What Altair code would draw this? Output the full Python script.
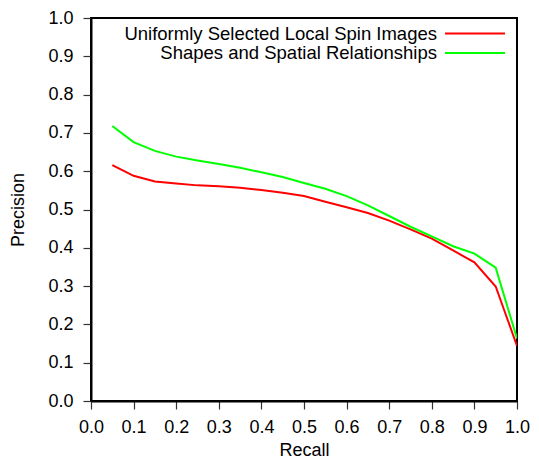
import altair as alt
import pandas as pd

recall = [0.05, 0.10, 0.15, 0.20, 0.25, 0.30, 0.35, 0.40, 0.45, 0.50,
          0.55, 0.60, 0.65, 0.70, 0.75, 0.80, 0.85, 0.90, 0.95, 1.00]
spin_images = [0.616, 0.588, 0.573, 0.568, 0.563, 0.561, 0.557, 0.551, 0.544, 0.535,
               0.520, 0.506, 0.491, 0.471, 0.448, 0.424, 0.393, 0.362, 0.299, 0.144]
shapes_spatial = [0.718, 0.676, 0.653, 0.638, 0.628, 0.619, 0.609, 0.597, 0.585, 0.569,
                  0.554, 0.535, 0.511, 0.483, 0.455, 0.430, 0.404, 0.385, 0.348, 0.163]
series_names = ["Uniformly Selected Local Spin Images", "Shapes and Spatial Relationships"]
series_colors = ["#ff0000", "#00ff00"]
tick_values = [0.0, 0.1, 0.2, 0.3, 0.4, 0.5, 0.6, 0.7, 0.8, 0.9, 1.0]

rows = []
for r, a, b in zip(recall, spin_images, shapes_spatial):
    rows.append({"Recall": r, "Precision": a, "series": series_names[0]})
    rows.append({"Recall": r, "Precision": b, "series": series_names[1]})
df = pd.DataFrame(rows)

FONT = "Liberation Sans"
FS = 18

lines = alt.Chart(df).mark_line(strokeWidth=2, clip=True).encode(
    x=alt.X("Recall:Q", scale=alt.Scale(domain=[0, 1], nice=False),
            axis=alt.Axis(values=tick_values, format=".1f", title="Recall")),
    y=alt.Y("Precision:Q", scale=alt.Scale(domain=[0, 1], nice=False),
            axis=alt.Axis(values=tick_values, format=".1f", title="Precision")),
    color=alt.Color("series:N", scale=alt.Scale(domain=series_names, range=series_colors), legend=None),
    detail="series:N",
)

leg_layers = []
for i, (name, col) in enumerate(zip(series_names, series_colors)):
    ldf = pd.DataFrame({"series": [name]})
    yv = 15.5 + i * 19.5
    leg_layers.append(
        alt.Chart(ldf).mark_text(align="right", baseline="middle", font=FONT, fontSize=18.5, color="black").encode(
            text="series:N", x=alt.value(346), y=alt.value(yv)
        )
    )
    leg_layers.append(
        alt.Chart(ldf).mark_rule(strokeWidth=2, color=col).encode(
            x=alt.value(354), x2=alt.value(414), y=alt.value(yv)
        )
    )

chart = alt.layer(lines, *leg_layers).properties(
    width=426, height=383,
    autosize="none",
    padding={"left": 83, "top": 10, "right": 14, "bottom": 58},
).configure_view(
    stroke="black", strokeWidth=2
).configure_axis(
    grid=False,
    domainColor="black", domainWidth=2,
    tickColor="#333333", tickSize=8, tickWidth=1.2,
    labelFont=FONT, labelFontSize=FS, labelColor="black",
    titleFont=FONT, titleFontSize=FS, titleColor="black", titleFontWeight="normal",
).configure_axisX(
    labelPadding=9, titlePadding=5, labelFlush=False,
).configure_axisY(
    labelPadding=10, titlePadding=20,
)

chart.save("out.html", embed_options={"renderer": "svg", "actions": False})
